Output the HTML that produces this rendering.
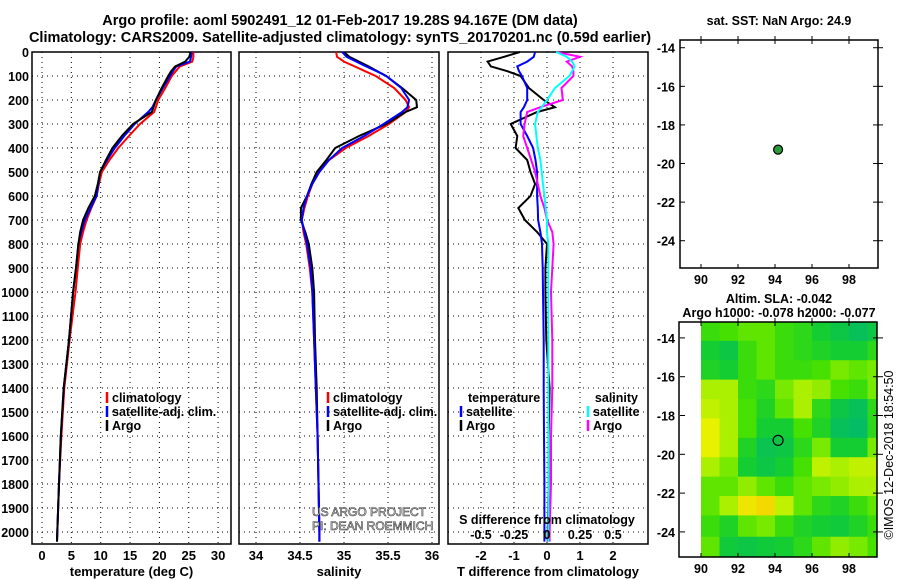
<!DOCTYPE html>
<html><head><meta charset="utf-8"><style>
body{margin:0;background:#fff;}
svg{display:block;font-family:"Liberation Sans",sans-serif;font-weight:bold;}
</style></head><body>
<svg id="fig" width="900" height="580" viewBox="0 0 900 580"></svg>
<script>
// ---- data ----
const depths = [0,20,40,60,80,100,150,200,230,250,300,350,400,450,500,550,600,650,700,750,800,900,1000,1200,1400,1600,1800,2000,2040];
const tempClim = [25.8,25.8,25.6,23.5,22.8,22.1,21.0,19.8,19.4,19.1,16.7,14.8,13.0,11.5,10.2,9.7,9.3,8.4,7.6,7.0,6.5,6.1,5.7,4.7,3.8,3.3,2.9,2.6,2.55];
const tempSat = [25.5,25.4,25.2,22.9,22.3,21.8,20.6,19.4,18.8,18.1,15.8,14.0,12.4,11.1,9.9,9.6,9.3,8.3,7.3,6.7,6.2,5.8,5.3,4.6,3.7,3.2,2.9,2.6,2.55];
const tempArgo = [25.3,25.1,24.4,22.7,22.0,21.5,20.4,19.4,19.0,18.7,15.5,13.6,12.0,10.9,9.9,9.5,9.0,7.9,7.0,6.5,6.2,5.8,5.3,4.6,3.7,3.2,2.9,2.6,2.55];
const salClim = [34.91,34.92,35.0,35.12,35.24,35.36,35.57,35.70,35.74,35.70,35.51,35.28,35.02,34.83,34.70,34.64,34.59,34.55,34.52,34.54,34.57,34.61,34.64,34.66,34.68,34.70,34.71,34.72,34.72];
const salSat = [34.98,35.03,35.14,35.25,35.37,35.48,35.65,35.74,35.72,35.66,35.45,35.23,34.98,34.83,34.72,34.64,34.58,34.54,34.52,34.55,34.58,34.62,34.64,34.66,34.68,34.70,34.71,34.72,34.72];
const salArgo = [35.0,35.06,35.17,35.28,35.38,35.48,35.66,35.82,35.83,35.70,35.48,35.17,34.90,34.80,34.69,34.63,34.58,34.51,34.51,34.56,34.60,34.64,34.66,34.67,34.69,34.70,34.71,34.72,34.72];
const dTempSat = [-0.36,-0.4,-0.6,-0.9,-0.85,-0.76,-0.6,-0.6,-0.7,-0.8,-0.8,-0.6,-0.42,-0.35,-0.3,-0.3,-0.3,-0.28,-0.27,-0.2,-0.15,-0.13,-0.12,-0.1,-0.1,-0.09,-0.08,-0.08,-0.08];
const dTempArgo = [-0.82,-1.3,-1.8,-1.7,-1.2,-0.8,-0.55,-0.1,0.24,-0.3,-1.1,-0.9,-0.95,-0.6,-0.5,-0.36,-0.5,-0.87,-0.67,-0.3,0.0,-0.05,-0.05,-0.02,0.08,0.05,0.05,0.02,0.02];
const dSalSat = [0.07,0.15,0.19,0.21,0.19,0.17,0.06,0.0,-0.04,-0.07,-0.09,-0.08,-0.07,-0.05,-0.04,-0.03,-0.02,-0.01,0.0,0.0,0.01,0.01,0.01,0.01,0.01,0.01,0.01,0.01,0.01];
const dSalArgo = [0.07,0.25,0.15,0.19,0.2,0.2,0.11,0.12,-0.05,-0.15,-0.17,-0.18,-0.15,-0.12,-0.09,-0.07,-0.05,-0.02,0.0,0.04,0.05,0.04,0.03,0.04,0.04,0.03,0.03,0.02,0.02];
const depthTicks = [0,100,200,300,400,500,600,700,800,900,1000,1100,1200,1300,1400,1500,1600,1700,1800,1900,2000];
const tempTicks = [0,5,10,15,20,25,30];
const salTicks = [34,34.5,35,35.5,36];
const dTTicks = [-2,-1,0,1,2];
const dSTicks = [-0.5,-0.25,0,0.25,0.5];
const dSTickLabels = ["-0.5","-0.25","0","0.25","0.5"];
const lonTicks = [90,92,94,96,98];
const latTicks = [-14,-16,-18,-20,-22,-24];
const argoLon = 94.167, argoLat = -19.28;
const slaLons = [90.5,91.5,92.5,93.5,94.5,95.5,96.5,97.5,98.5,99.5];
const slaLats = [-13.7,-14.7,-15.7,-16.7,-17.7,-18.7,-19.7,-20.7,-21.7,-22.7,-23.7,-24.8];
const slaGrid = [
[0.45,0.5,0.55,0.55,0.45,0.4,0.3,0.2,0.1,0.2],
[0.3,0.2,0.45,0.55,0.45,0.4,0.35,0.3,0.3,0.4],
[0.35,0.3,0.45,0.55,0.45,0.45,0.5,0.6,0.55,0.6],
[0.7,0.7,0.45,0.4,0.6,0.7,0.65,0.5,0.45,0.6],
[0.75,0.7,0.5,0.35,0.55,0.7,0.4,0.2,0.1,0.4],
[0.85,0.7,0.5,0.3,0.3,0.5,0.35,0.1,0.05,0.4],
[0.85,0.7,0.35,0.15,0.2,0.4,0.6,0.3,0.3,0.6],
[0.7,0.6,0.3,0.2,0.3,0.5,0.75,0.7,0.75,0.75],
[0.55,0.55,0.65,0.55,0.45,0.55,0.6,0.65,0.7,0.7],
[0.55,0.7,0.9,0.95,0.75,0.55,0.4,0.35,0.45,0.55],
[0.45,0.35,0.55,0.6,0.45,0.35,0.3,0.25,0.35,0.45],
[0.55,0.25,0.2,0.25,0.3,0.4,0.55,0.65,0.6,0.5]];

// ---- helpers ----
const NS='http://www.w3.org/2000/svg';
const svg=document.getElementById('fig');
function el(tag,attrs,parent){const e=document.createElementNS(NS,tag);for(const k in attrs)e.setAttribute(k,attrs[k]);(parent||svg).appendChild(e);return e;}
function txt(x,y,s,size,anchor,parent){const t=el('text',{x:x,y:y,'font-size':size,'text-anchor':anchor||'middle'},parent);t.textContent=s;return t;}
const PT=52, PB=544;
const yD=d=>PT+d*0.24;

function panel(name,x0,x1,xScale,xTicks,xLabels,title,gridX){
  const g=el('g',{});
  
  
  depthTicks.forEach(d=>{const y=yD(d);el('line',{x1:x0,x2:x1,y1:y,y2:y,stroke:'#000','stroke-width':1,'stroke-dasharray':'1,4'},g);});
  gridX.forEach(v=>{const x=xScale(v);el('line',{x1:x,x2:x,y1:PT,y2:PB,stroke:'#000','stroke-width':1,'stroke-dasharray':'1,4'},g);});
  el('rect',{x:x0,y:PT,width:x1-x0,height:PB-PT,fill:'none',stroke:'#000','stroke-width':1.5},g);
  if(xLabels) xTicks.forEach((v,i)=>{txt(xScale(v),560,xLabels[i],13,'middle',g);});
  txt((x0+x1)/2,576,title,13,'middle',g);
  return g;
}
function line(g,xs,scale,color,name){
  const pts=depths.map((d,i)=>scale(xs[i]).toFixed(1)+','+yD(d).toFixed(1)).join(' ');
  const p=el('polyline',{points:pts,fill:'none',stroke:color,'stroke-width':2},g);
  
  
}
function legend(g,x,y,color,label){
  el('line',{x1:x,x2:x,y1:y-10,y2:y+1,stroke:color,'stroke-width':2.5},g);
  txt(x+5,y,label,12.5,'start',g);
}

// titles
const t1=txt(340,25,'Argo profile: aoml 5902491_12 01-Feb-2017 19.28S 94.167E (DM data)',14.5);

const t2=txt(340,42,'Climatology: CARS2009. Satellite-adjusted climatology: synTS_20170201.nc (0.59d earlier)',14.5);


// depth labels
depthTicks.forEach(d=>{txt(29,yD(d)+5,String(d),12.5,'end');});

// panel 1 temperature
const sT=v=>42+v*5.87;
const g1=panel('temperature-panel',32,231,sT,tempTicks,tempTicks.map(String),'temperature (deg C)',tempTicks);
line(g1,tempClim,sT,'#ff0000','temp-climatology-line');
line(g1,tempSat,sT,'#0000ff','temp-satellite-line');
line(g1,tempArgo,sT,'#000000','temp-argo-line');
legend(g1,107,402,'#ff0000','climatology');legend(g1,107,416,'#0000ff','satellite-adj. clim.');legend(g1,107,430,'#000','Argo');

// panel 2 salinity
const sS=v=>300+(v-34.5)*88;
const g2=panel('salinity-panel',239,439,sS,salTicks,salTicks.map(String),'salinity',salTicks);
line(g2,salClim,sS,'#ff0000','sal-climatology-line');
line(g2,salArgo,sS,'#000000','sal-argo-line');
line(g2,salSat,sS,'#0000ff','sal-satellite-line');
legend(g2,328,402,'#ff0000','climatology');legend(g2,328,416,'#0000ff','satellite-adj. clim.');legend(g2,328,430,'#000','Argo');
[['US ARGO PROJECT',516],['PI: DEAN ROEMMICH',530]].forEach(a=>{const t=txt(312,a[1],a[0],12,'start',g2);t.setAttribute('font-weight','normal');t.setAttribute('fill','#fff');t.setAttribute('stroke','#333');t.setAttribute('stroke-width','0.6');});

// panel 3 differences
const sDT=v=>547+v*33, sDS=v=>547+v*132;
const g3=panel('difference-panel',448,648,sDT,dTTicks,dTTicks.map(String),'T difference from climatology',dTTicks);
line(g3,dTempArgo,sDT,'#000000','dtemp-argo-line');
line(g3,dTempSat,sDT,'#0000ff','dtemp-satellite-line');
line(g3,dSalArgo,sDS,'#ff00ff','dsal-argo-line');
line(g3,dSalSat,sDS,'#00ffff','dsal-satellite-line');
txt(468,402,'temperature',12.5,'start',g3);
legend(g3,461,416,'#0000ff','satellite');legend(g3,461,430,'#000','Argo');
txt(638,402,'salinity',12.5,'end',g3);
legend(g3,588,416,'#00ffff','satellite');legend(g3,588,430,'#ff00ff','Argo');
txt(547,524,'S difference from climatology',12.5,'middle',g3);
dSTicks.forEach((v,i)=>txt(sDS(v),539,dSTickLabels[i],12.5,'middle',g3));

// map axes helper
function mapAxes(g,top,bot,latTop,pxLat){
  const yL=la=>top+(latTop-la)*pxLat;
  latTicks.forEach(la=>{const y=yL(la);txt(675,y+5,String(la),12.5,'end',g);
    el('line',{x1:680,x2:685,y1:y,y2:y,stroke:'#000'},g);el('line',{x1:873,x2:883,y1:y,y2:y,stroke:'#000'},g);});
  lonTicks.forEach(lo=>{const x=701+(lo-90)*18.5;txt(x,bot+16,String(lo),12.5,'middle',g);
    el('line',{x1:x,x2:x,y1:top-4,y2:top+4,stroke:'#000'},g);el('line',{x1:x,x2:x,y1:bot-4,y2:bot,stroke:'#000'},g);});
  return yL;
}
const xL=lo=>701+(lo-90)*18.5;

// top-right map
const g4=el('g',{});


txt(779,25,'sat. SST: NaN Argo: 24.9',12.5,'middle',g4);
el('rect',{x:680,y:40,width:198,height:228,fill:'#fff',stroke:'#000','stroke-width':1.5},g4);
const yL4=mapAxes(g4,40,268,-13.6,19.3);
const dot=el('circle',{cx:xL(argoLon),cy:yL4(argoLat),r:4.5,fill:'#2a9a3a',stroke:'#000','stroke-width':1.2},g4);


// bottom SLA map
const g5=el('g',{});


txt(779,303,'Altim. SLA: -0.042',12.5,'middle',g5);
txt(779,317,'Argo h1000: -0.078 h2000: -0.077',12.5,'middle',g5);
const stops=[[0,[0,185,110]],[0.3,[20,205,50]],[0.5,[70,225,0]],[0.7,[170,240,0]],[0.85,[232,242,0]],[1,[250,205,0]]];
function col(v){for(let i=1;i<stops.length;i++){if(v<=stops[i][0]){const a=stops[i-1],b=stops[i],t=(v-a[0])/(b[0]-a[0]);return 'rgb('+a[1].map((c,k)=>Math.round(c+(b[1][k]-c)*t)).join(',')+')';}}return 'rgb(250,205,0)';}
const mTop=322,mBot=557,latTop5=-13.18,pxLat5=19.4;
const yL5=la=>mTop+(latTop5-la)*pxLat5;
slaLats.forEach((la,r)=>slaLons.forEach((lo,c)=>{
  const x0=Math.max(701,xL(lo-0.5)),x1=Math.min(877,xL(lo+0.55));
  const y0=Math.max(mTop,yL5(la+0.55)),y1=Math.min(mBot,yL5(la-0.6));
  const cell=el('rect',{x:x0,y:y0,width:Math.max(0,x1-x0),height:Math.max(0,y1-y0),fill:col(slaGrid[r][c])},g5);
  
  
}));
el('rect',{x:679,y:mTop,width:198,height:mBot-mTop,fill:'none',stroke:'#000','stroke-width':1.5},g5);
mapAxes(g5,mTop,mBot,latTop5,pxLat5);
const ring=el('circle',{cx:xL(argoLon),cy:yL5(argoLat),r:5,fill:'none',stroke:'#000','stroke-width':1.2},g5);

const ts=txt(0,0,'©IMOS 12-Dec-2018 18:54:50',12.5,'middle');
ts.setAttribute('font-weight','normal');
ts.setAttribute('transform','translate(893,455) rotate(-90)');

</script>
</body></html>
